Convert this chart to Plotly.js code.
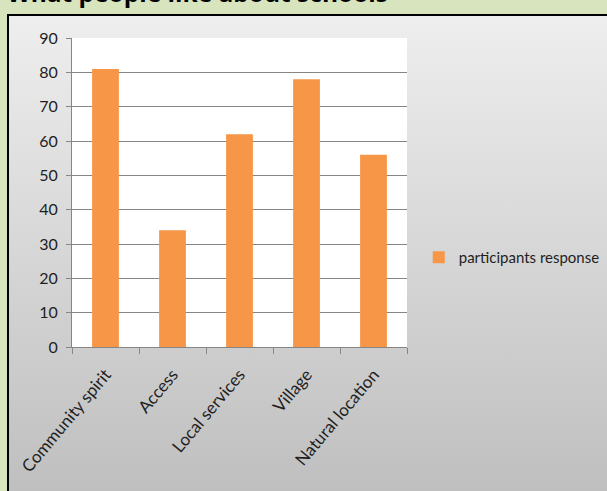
<!DOCTYPE html>
<html>
<head>
<meta charset="utf-8">
<script src="https://cdn.plot.ly/plotly-3.0.1.min.js"></script>
<style>
  html, body { margin: 0; padding: 0; width: 607px; height: 491px; overflow: hidden; background: #d7e4bd; }
  #frame { position: absolute; left: 7px; top: 14px; width: 640px; height: 520px;
           border-left: 2px solid #000; border-top: 2px solid #000;
           background: linear-gradient(to bottom, #eeeeee 0px, #bfbfbf 477px); }
  #chart { position: absolute; left: 0; top: 0; width: 607px; height: 491px; }
</style>
</head>
<body>
<div id="frame"></div>
<div id="chart"></div>
<script>
const chartTitle = "What people like about schools";
const categories = ["Community spirit", "Access", "Local services", "Village", "Natural location"];
const seriesName = "participants response";
const responses = [81, 34, 62, 78, 56];

const trace = {
  type: "bar",
  x: categories,
  y: responses,
  name: seriesName,
  marker: { color: "#f79646" },
  showlegend: true,
  hoverinfo: "x+y"
};

const axisGray = "#868686";

const layout = {
  width: 607,
  height: 491,
  margin: { l: 72, r: 200, t: 38, b: 144, pad: 0, autoexpand: false },
  paper_bgcolor: "rgba(0,0,0,0)",
  plot_bgcolor: "#ffffff",
  bargap: 0.6,
  font: { family: "Lato, 'Open Sans', sans-serif", size: 15, color: "#1e1e1e" },
  showlegend: true,
  legend: {
    x: 1.035, xanchor: "left",
    y: 0.29, yanchor: "middle",
    bgcolor: "rgba(0,0,0,0)",
    font: { family: "Lato, sans-serif", size: 15, color: "#1e1e1e" }
  },
  annotations: [{
    text: "<b>" + chartTitle + "</b>",
    xref: "paper", yref: "paper",
    x: (5 - 72) / 335, xanchor: "left",
    y: 1 + (38 - 11) / 309, yanchor: "bottom",
    showarrow: false,
    font: { family: "'Open Sans', sans-serif", size: 24.5, color: "#000000" }
  }],
  xaxis: {
    type: "category",
    automargin: false,
    showline: true, linecolor: axisGray, linewidth: 1,
    ticks: "outside", ticklen: 6, tickcolor: axisGray, tickwidth: 1,
    tickson: "boundaries",
    tickangle: -50,
    ticklabelstandoff: 10,
    showgrid: false,
    zeroline: false,
    tickfont: { family: "Lato, sans-serif", size: 17, color: "#1e1e1e" }
  },
  yaxis: {
    range: [0, 90],
    dtick: 10,
    tick0: 0,
    automargin: false,
    showline: true, linecolor: axisGray, linewidth: 1,
    ticks: "outside", ticklen: 5, tickcolor: axisGray, tickwidth: 1,
    ticklabelstandoff: 5,
    showgrid: true, gridcolor: axisGray, gridwidth: 1,
    zeroline: false,
    tickfont: { family: "Lato, sans-serif", size: 16, color: "#1e1e1e" }
  }
};

Plotly.newPlot("chart", [trace], layout, { displayModeBar: false, staticPlot: true });
</script>
</body>
</html>
